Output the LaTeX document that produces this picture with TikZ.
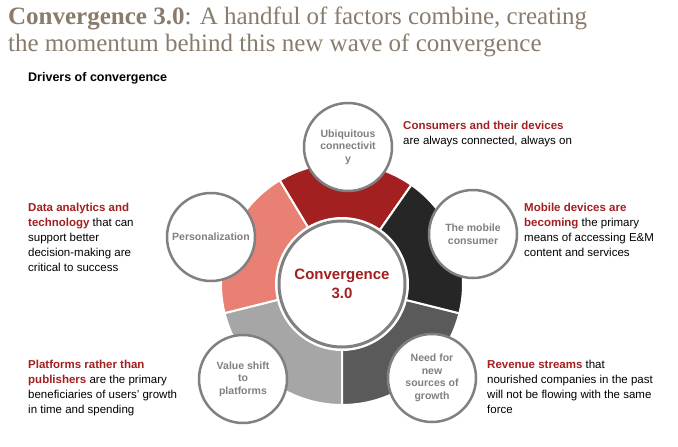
\documentclass[tikz,border=0pt]{standalone}
\usepackage{fontspec}
\usetikzlibrary{calc}
\setmainfont{Liberation Sans}
\newfontfamily\titlefont{Liberation Serif}
\definecolor{pwred}{HTML}{A32020}
\definecolor{salmon}{HTML}{E88073}
\definecolor{lgray}{HTML}{A6A6A6}
\definecolor{dgray}{HTML}{5A5A5A}
\definecolor{blk}{HTML}{262626}
\definecolor{ttl}{HTML}{8A7C6C}
\definecolor{cgray}{HTML}{808080}
\begin{document}
\begin{tikzpicture}[x=1pt,y=-1pt,
  seg/.style={draw=white,line width=2pt},
  small/.style={circle,draw=cgray,line width=2.5pt,fill=white,minimum size=88pt,inner sep=1pt,align=center,text=cgray,font=\fontsize{10.5}{12.5}\selectfont\bfseries},
  lab/.style={anchor=north west,align=left,inner sep=0pt,font=\fontsize{11.5}{15}\selectfont}]
\useasboundingbox (0,0) rectangle (678,447);
\fill[white] (0,0) rectangle (678,447);
\node[anchor=west,inner sep=0pt,text=ttl,font=\fontsize{25}{28}\selectfont\titlefont] (t1) at (8,18) {\textbf{Convergence 3.0}: A handful of factors combine, creating};
\node[anchor=west,inner sep=0pt,text=ttl,font=\fontsize{25}{28}\selectfont\titlefont] (t2) at (8,45) {the momentum behind this new wave of convergence};
\node[anchor=west,inner sep=0pt,font=\fontsize{12.5}{15}\selectfont\bfseries] (sub) at (28,78) {Drivers of convergence};
\coordinate (c) at (342,284);
\foreach \a/\b/\col in {-55/-121/pwred,-121/-194/salmon,-194/-270/lgray,-270/-346/dgray,-346/-415/blk}{
  \fill[\col,seg] ($(c)+(\a:121)$) arc[start angle=\a,end angle=\b,radius=121] -- ($(c)+(\b:66)$) arc[start angle=\b,end angle=\a,radius=66] -- cycle;
}
\node[circle,draw=cgray,line width=3pt,fill=white,minimum size=126pt,align=center,text=pwred,font=\fontsize{15}{19}\selectfont\bfseries] (center) at (c) {Convergence\\3.0};
\node[small] (u) at (348,147) {Ubiquitous\\connectivit\\y};
\node[small] (p) at (211,237) {Personalization};
\node[small] (m) at (473,234) {The mobile\\consumer};
\node[small] (v) at (243,379) {Value shift\\to\\platforms};
\node[small] (n) at (432,378) {Need for\\new\\sources of\\growth};
\node[lab] (l1) at (403,121) {\textcolor{pwred}{\bfseries Consumers and their devices}\\are always connected, always on};
\node[lab] (l2) at (524,203) {\textcolor{pwred}{\bfseries Mobile devices are}\\\textcolor{pwred}{\bfseries becoming} the primary\\means of accessing E\&M\\content and services};
\node[lab] (l3) at (28,203) {\textcolor{pwred}{\bfseries Data analytics and}\\\textcolor{pwred}{\bfseries technology} that can\\support better\\decision-making are\\critical to success};
\node[lab] (l4) at (487,360) {\textcolor{pwred}{\bfseries Revenue streams} that\\nourished companies in the past\\will not be flowing with the same\\force};
\node[lab] (l5) at (28,360) {\textcolor{pwred}{\bfseries Platforms rather than}\\\textcolor{pwred}{\bfseries publishers} are the primary\\beneficiaries of users' growth\\in time and spending};
\end{tikzpicture}
\end{document}
